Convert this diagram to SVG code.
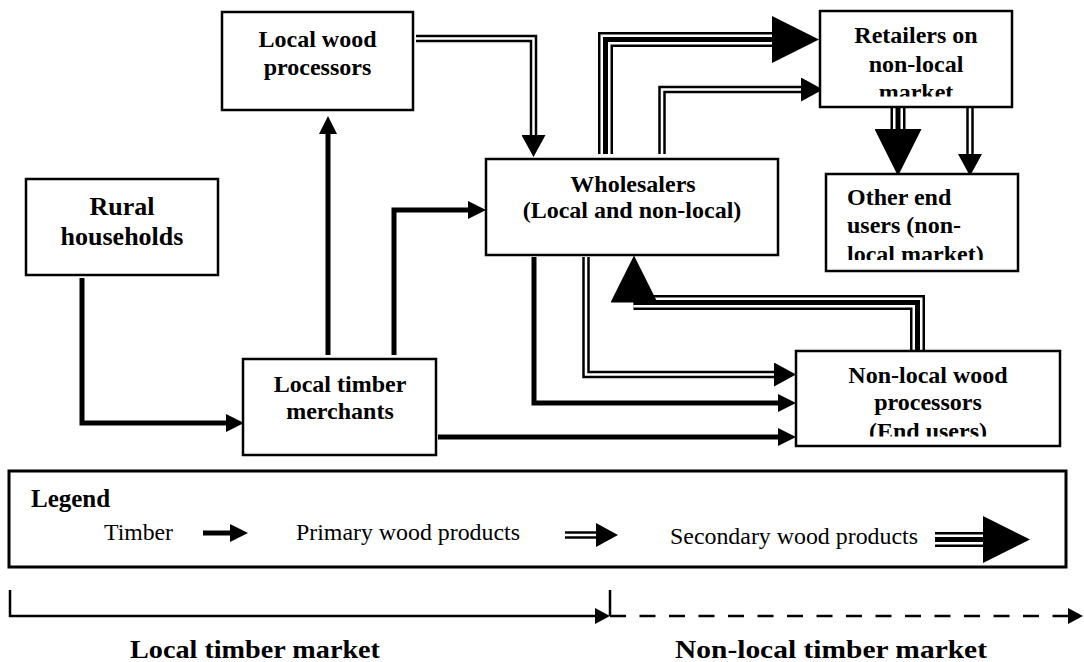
<svg xmlns="http://www.w3.org/2000/svg" width="1084" height="662" viewBox="0 0 1084 662">
<style>
.box{fill:#fff;stroke:#000;stroke-width:2.5}
.lbl{font-family:"Liberation Serif","Times New Roman",serif;font-weight:bold;font-size:24px;fill:#000;text-anchor:middle}
.lft{text-anchor:start}
.big{font-size:26px}
.tim{fill:none;stroke:#000;stroke-width:5;stroke-linejoin:miter}
.b2{fill:none;stroke:#000;stroke-width:7.5;stroke-linejoin:miter}
.w2{fill:none;stroke:#fff;stroke-width:2.5;stroke-linejoin:miter}
.b3{fill:none;stroke:#000;stroke-width:15;stroke-linejoin:miter}
.w3{fill:none;stroke:#fff;stroke-width:10;stroke-linejoin:miter}
.c3{fill:none;stroke:#000;stroke-width:5;stroke-linejoin:miter}
.hd{fill:none;stroke:none}
.leg{font-family:"Liberation Serif","Times New Roman",serif;font-size:23.5px;fill:#000}
.legt{font-family:"Liberation Serif","Times New Roman",serif;font-weight:bold;font-size:25px;fill:#000}
.scale{fill:none;stroke:#000;stroke-width:2.5}
.mkt{font-family:"Liberation Serif","Times New Roman",serif;font-weight:bold;font-size:26px;fill:#000;text-anchor:middle}
</style>
<defs>
<marker id="mt" markerUnits="userSpaceOnUse" markerWidth="18" markerHeight="18" viewBox="0 0 18 18" refX="0" refY="9" orient="auto"><path d="M0,0 L18,9 L0,18z" fill="#000"/></marker>
<marker id="m2" markerUnits="userSpaceOnUse" markerWidth="22" markerHeight="24" viewBox="0 0 22 24" refX="0" refY="12" orient="auto"><path d="M0,0 L22,12 L0,24z" fill="#000"/></marker>
<marker id="m3" markerUnits="userSpaceOnUse" markerWidth="47" markerHeight="47" viewBox="0 0 47 47" refX="0" refY="23.5" orient="auto"><path d="M0,0 L47,23.5 L0,47z" fill="#000"/></marker>
<marker id="ms" markerUnits="userSpaceOnUse" markerWidth="15" markerHeight="16" viewBox="0 0 15 16" refX="0" refY="8" orient="auto"><path d="M0,0 L15,8 L0,16z" fill="#000"/></marker>
<clipPath id="cR"><rect x="820" y="11" width="192" height="85.5"/></clipPath>
<clipPath id="cO"><rect x="826" y="174" width="192" height="86"/></clipPath>
<clipPath id="cN"><rect x="796" y="351" width="264" height="85.5"/></clipPath>
</defs>
<rect x="0" y="0" width="1084" height="662" fill="#fff"/>

<g id="connectors">
  <!-- timber -->
  <path class="tim" d="M82,278 V423 H226" marker-end="url(#mt)"/>
  <path class="tim" d="M328,355 V134" marker-end="url(#mt)"/>
  <path class="tim" d="M394,355 V210 H468" marker-end="url(#mt)"/>
  <path class="tim" d="M534,257 V403 H778" marker-end="url(#mt)"/>
  <path class="tim" d="M438,437 H778" marker-end="url(#mt)"/>
  <!-- primary -->
  <path class="b2" d="M416,38.5 H533.5 V135" marker-end="url(#m2)"/>
  <path class="w2" d="M416,38.5 H533.5 V135"/>
  <path class="b2" d="M662,154 V89.5 H801" marker-end="url(#m2)"/>
  <path class="w2" d="M662,154 V89.5 H801"/>
  <path class="b2" d="M970,108 V154" marker-end="url(#m2)"/>
  <path class="w2" d="M970,108 V154"/>
  <path class="b2" d="M586,257 V374.5 H774" marker-end="url(#m2)"/>
  <path class="w2" d="M586,257 V374.5 H774"/>
  <!-- secondary -->
  <path class="b3" d="M605.5,154 V39.5 H772" marker-end="url(#m3)"/>
  <path class="w3" d="M605.5,154 V39.5 H772"/>
  <path class="c3" d="M605.5,154 V39.5 H772"/>
  <path class="b3" d="M898,108 V129" marker-end="url(#m3)"/>
  <path class="w3" d="M898,108 V129"/>
  <path class="c3" d="M898,108 V129"/>
  <path class="b3" d="M917.5,351 V302.5 H633.5"/>
  <path class="w3" d="M917.5,351 V302.5 H633.5"/>
  <path class="c3" d="M917.5,351 V302.5 H633.5"/>
  <path class="hd" d="M634,304 V302.5" marker-end="url(#m3)"/>
</g>

<g id="n-local-wood-processors">
  <rect class="box" x="222" y="12" width="191" height="98"/>
  <text class="lbl" x="317.5" y="47">Local wood</text>
  <text class="lbl" x="317.5" y="75">processors</text>
</g>
<g id="n-rural-households">
  <rect class="box" x="26" y="179" width="192" height="96"/>
  <text class="lbl big" x="122" y="215">Rural</text>
  <text class="lbl big" x="122" y="245">households</text>
</g>
<g id="n-local-timber-merchants">
  <rect class="box" x="243" y="359" width="193" height="96"/>
  <text class="lbl" x="340" y="392">Local timber</text>
  <text class="lbl" x="340" y="419">merchants</text>
</g>
<g id="n-wholesalers">
  <rect class="box" x="486" y="159" width="292" height="96"/>
  <text class="lbl" x="633" y="192">Wholesalers</text>
  <text class="lbl" x="632" y="218">(Local and non-local)</text>
</g>
<g id="n-retailers">
  <rect class="box" x="820" y="11" width="192" height="96"/>
  <g clip-path="url(#cR)">
    <text class="lbl" x="916" y="43">Retailers on</text>
    <text class="lbl" x="916" y="71.5">non-local</text>
    <text class="lbl" x="916" y="100">market</text>
  </g>
</g>
<g id="n-other-end-users">
  <rect class="box" x="826" y="174" width="192" height="97"/>
  <g clip-path="url(#cO)">
    <text class="lbl lft" x="847" y="205">Other end</text>
    <text class="lbl lft" x="847" y="233">users (non-</text>
    <text class="lbl lft" x="847" y="262">local market)</text>
  </g>
</g>
<g id="n-nonlocal-wood-processors">
  <rect class="box" x="796" y="351" width="264" height="95"/>
  <g clip-path="url(#cN)">
    <text class="lbl" x="928" y="383">Non-local wood</text>
    <text class="lbl" x="928" y="410">processors</text>
    <text class="lbl" x="928" y="439">(End users)</text>
  </g>
</g>

<g id="legend">
  <rect x="9" y="471" width="1057" height="96" fill="#fff" stroke="#000" stroke-width="3"/>
  <text class="legt" x="31" y="507">Legend</text>
  <text class="leg" x="104" y="540" textLength="69" lengthAdjust="spacingAndGlyphs">Timber</text>
  <path class="tim" d="M203,533 H230" marker-end="url(#mt)"/>
  <text class="leg" x="296" y="540" textLength="224" lengthAdjust="spacingAndGlyphs">Primary wood products</text>
  <path class="b2" d="M565,535 H596" marker-end="url(#m2)"/>
  <path class="w2" d="M565,535 H596"/>
  <text class="leg" x="670" y="544" textLength="248" lengthAdjust="spacingAndGlyphs">Secondary wood products</text>
  <path class="b3" d="M935,539.5 H983" marker-end="url(#m3)"/>
  <path class="w3" d="M935,539.5 H983"/>
  <path class="c3" d="M935,539.5 H983"/>
</g>

<g id="market-scale">
  <path class="scale" d="M10,590 V616 H595" marker-end="url(#ms)"/>
  <path class="scale" d="M610,590 V616"/>
  <path class="scale" d="M610,616 H1068" stroke-dasharray="16 13.5" marker-end="url(#ms)"/>
  <text class="mkt" x="255" y="658" textLength="250" lengthAdjust="spacingAndGlyphs">Local timber market</text>
  <text class="mkt" x="831" y="658" textLength="312" lengthAdjust="spacingAndGlyphs">Non-local timber market</text>
</g>
</svg>
